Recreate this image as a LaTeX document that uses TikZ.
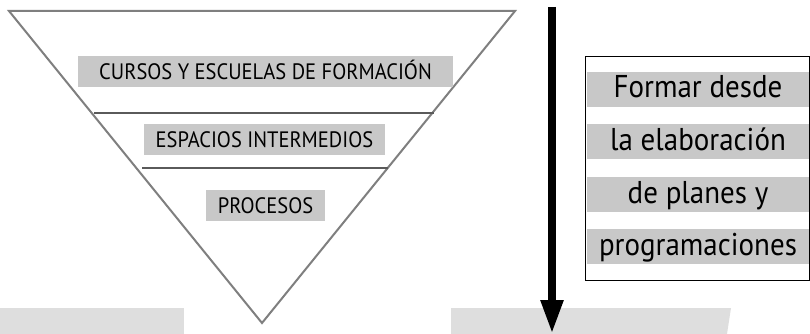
\documentclass[tikz,border=0pt]{standalone}
\usepackage{fontspec}
\setmainfont{PT Sans}[FakeStretch=0.92]
\usetikzlibrary{arrows.meta}
\definecolor{tri}{HTML}{7F7F7F}
\definecolor{sep}{HTML}{5A5A5A}
\definecolor{boxg}{HTML}{C8C8C8}
\definecolor{band}{HTML}{DEDEDE}
\tikzset{
  lbl/.style={fill=boxg, inner sep=0pt, font=\fontsize{22.3}{24}\selectfont, text height=15.6pt, text depth=0pt, anchor=center},
  strip/.style={fill=boxg, inner sep=0pt, minimum width=222pt, minimum height=35pt, font=\fontsize{31.5}{33}\selectfont, text height=22pt, text depth=5pt},
}
\begin{document}
\begin{tikzpicture}[x=1pt,y=-1pt]
\useasboundingbox (0,0) rectangle (810,334);
% bottom bands
\fill[band] (0,308) rectangle (184,334);
\fill[band] (451,308) -- (731,308) -- (727,334) -- (451,334) -- cycle;
% triangle
\coordinate (tl) at (9,11);
\coordinate (tr) at (515,11);
\coordinate (ap) at (262,323);
\draw[tri, line width=2pt, line join=miter] (tl) -- (tr) -- (ap) -- cycle;
% separators
\coordinate (s1a) at (94,113); \coordinate (s1b) at (434,113);
\coordinate (s2a) at (142,168); \coordinate (s2b) at (388,168);
\draw[sep, line width=2.2pt] (s1a) -- (s1b);
\draw[sep, line width=2.2pt] (s2a) -- (s2b);
% labels
\node[lbl, minimum width=375pt, minimum height=31pt] (cursos) at (265.5,71.5) {CURSOS Y ESCUELAS DE FORMACIÓN};
\node[lbl, minimum width=241pt, minimum height=31pt] (espacios) at (264.5,139.5) {ESPACIOS INTERMEDIOS};
\node[lbl, minimum width=119pt, minimum height=31pt] (procesos) at (265.5,205.5) {PROCESOS};
% right box
\node[draw=black, line width=1pt, minimum width=224pt, minimum height=223pt, inner sep=0pt] (box) at (697,168.5) {};
\node[strip] (f1) at (698,89.5) {Formar desde};
\node[strip] (f2) at (698,141.5) {la elaboración};
\node[strip] (f3) at (698,194.5) {de planes y};
\node[strip] (f4) at (698,246.5) {programaciones};
% arrow
\coordinate (atop) at (552,7);
\coordinate (abot) at (552,334);
\draw[line width=8pt, -{Triangle[width=21pt,length=34pt]}] (atop) -- (abot);
\end{tikzpicture}
\end{document}
